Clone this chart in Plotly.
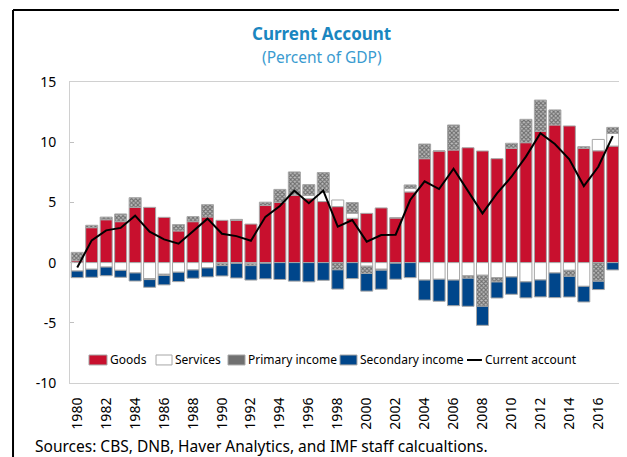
import plotly.graph_objects as go

FONT = "Noto Sans"

years = list(range(1980, 2018))

goods = [0.15, 2.9, 3.56, 3.4, 4.59, 4.59, 3.76, 2.63, 3.4, 3.79,
         3.51, 3.51, 3.2, 4.74, 5.0, 5.59, 5.31, 5.07, 4.65, 3.68,
         4.09, 4.54, 3.71, 5.87, 8.63, 9.27, 9.35, 9.54, 9.27, 8.63,
         9.49, 9.96, 10.9, 11.43, 11.35, 9.49, 9.29, 9.68]
services = [-0.7, -0.55, -0.37, -0.64, -0.86, -1.33, -0.97, -0.8, -0.61, -0.44,
            -0.08, -0.06, -0.1, -0.05, 0.0, 0.0, 0.28, 0.75, 0.55, 0.42,
            -0.3, -0.55, -0.05, 0.3, -1.45, -1.38, -1.45, -1.1, -1.05, -1.25,
            -1.19, -1.6, -1.44, -0.86, -0.64, -1.97, 0.94, 1.05]
primary = [0.7, 0.2, 0.22, 0.64, 0.8, -0.08, -0.1, 0.53, 0.42, 1.02,
           -0.17, 0.08, -0.15, 0.28, 1.08, 1.94, 0.89, 1.66, -0.6, 0.89,
           -0.6, -0.08, 0.0, 0.28, 1.22, 0.0, 2.08, -0.2, -2.58, -0.36,
           0.42, 1.94, 2.6, 1.25, -0.5, 0.14, -1.55, 0.5]
secondary = [-0.55, -0.67, -0.72, -0.58, -0.67, -0.64, -0.78, -0.78, -0.69, -0.75,
             -0.86, -1.22, -1.2, -1.3, -1.4, -1.54, -1.6, -1.47, -1.6, -1.33,
             -1.47, -1.58, -1.33, -1.25, -1.66, -1.83, -2.13, -2.33, -1.58, -1.33,
             -1.44, -1.33, -1.41, -2.05, -1.72, -1.3, -0.69, -0.61]
current_account = [-0.4, 1.85, 2.68, 2.88, 3.9, 2.57, 1.93, 1.57, 2.6, 3.65,
                   2.4, 2.2, 1.82, 3.8, 4.7, 5.98, 4.93, 5.98, 2.99, 3.54,
                   1.74, 2.29, 2.32, 5.2, 6.75, 6.11, 7.8, 5.98, 4.09, 5.75,
                   7.13, 8.8, 10.74, 9.85, 8.58, 6.36, 7.96, 10.5]

tick_years = list(range(1980, 2017, 2))
y_ticks = [-10, -5, 0, 5, 10, 15]
y_tick_text = ["-10", "-5", "0", "5", "10", "15"]

RED = "#c8102e"
BLUE = "#00468b"
HATCH_FG = "#222222"
HATCH_BG = "#bdbdbd"
outline = dict(color="#a6a6a6", width=1)

fig = go.Figure()
fig.add_trace(go.Bar(x=years, y=goods, name="Goods",
                     marker=dict(color=RED, line=outline)))
fig.add_trace(go.Bar(x=years, y=services, name="Services",
                     marker=dict(color="white", line=outline)))
fig.add_trace(go.Bar(x=years, y=primary, name="Primary income",
                     marker=dict(color=HATCH_BG, line=outline,
                                 pattern=dict(shape="x", size=3, solidity=0.6,
                                              fgcolor=HATCH_FG, bgcolor=HATCH_BG))))
fig.add_trace(go.Bar(x=years, y=secondary, name="Secondary income",
                     marker=dict(color=BLUE, line=outline)))
fig.add_trace(go.Scatter(x=years, y=current_account, name="Current account",
                         mode="lines", line=dict(color="black", width=2)))

# hand-drawn legend: one row of small keys sitting right next to their labels
legend_keys = [
    ("Goods", 0.0345, 0.0673, RED),
    ("Services", 0.1564, 0.1855, "white"),
    ("Primary income", 0.2873, 0.3182, "#707070"),
    ("Secondary income", 0.4909, 0.5218, BLUE),
]
shapes = []
annotations = []
for label, x0, x1, fill in legend_keys:
    shapes.append(dict(type="rect", xref="paper", yref="paper",
                       x0=x0, x1=x1, y0=0.06, y1=0.093, fillcolor=fill,
                       line=dict(color="#a6a6a6", width=1)))
    annotations.append(dict(text=label, xref="paper", yref="paper", x=x1 + 0.002, y=0.0765,
                            xanchor="left", yanchor="middle", showarrow=False,
                            font=dict(size=12, family=FONT, color="black")))
shapes.append(dict(type="line", xref="paper", yref="paper", x0=0.7218, x1=0.749,
                   y0=0.0765, y1=0.0765, line=dict(color="black", width=2)))
annotations.append(dict(text="Current account", xref="paper", yref="paper", x=0.751, y=0.0765,
                        xanchor="left", yanchor="middle", showarrow=False,
                        font=dict(size=12, family=FONT, color="black")))

# outer frame (top and left rules of the exhibit box)
shapes += [
    dict(type="line", xref="paper", yref="paper", x0=-0.1036, x1=1.05,
         y0=1.239, y1=1.239, line=dict(color="black", width=2)),
    dict(type="line", xref="paper", yref="paper", x0=-0.1036, x1=-0.1036,
         y0=1.239, y1=-0.32, line=dict(color="black", width=2)),
]

annotations += [
    dict(text="<b>Current Account</b>", xref="paper", yref="paper",
         x=0.458, y=1.161, xanchor="center", yanchor="middle", showarrow=False,
         font=dict(size=17, color="#1a86c0", family=FONT)),
    dict(text="(Percent of GDP)", xref="paper", yref="paper",
         x=0.458, y=1.084, xanchor="center", yanchor="middle", showarrow=False,
         font=dict(size=15.5, color="#3a9bd0", family=FONT)),
    dict(text="Sources: CBS, DNB, Haver Analytics, and IMF staff calcualtions.",
         xref="paper", yref="paper", x=-0.0673, y=-0.208,
         xanchor="left", yanchor="middle", showarrow=False,
         font=dict(size=15.5, color="black", family=FONT)),
]

fig.update_layout(
    width=619, height=449,
    margin=dict(l=62, r=7, t=74, b=74),
    paper_bgcolor="white", plot_bgcolor="white",
    barmode="relative", bargap=0.17,
    font=dict(family=FONT, size=14, color="black"),
    showlegend=False,
    xaxis=dict(range=[1979.5, 2017.5], tickvals=tick_years,
               ticktext=[str(y) for y in tick_years], tickangle=-90,
               showgrid=False, zeroline=False, showline=True, mirror=True,
               linecolor="#d0d0d0", linewidth=1, ticks="",
               ticklabelstandoff=8, tickfont=dict(size=14)),
    yaxis=dict(range=[-10, 15], tickvals=y_ticks, ticktext=y_tick_text,
               showgrid=False, zeroline=False,
               showline=True, mirror=True, linecolor="#d0d0d0", linewidth=1,
               ticks="inside", ticklen=4, tickcolor="#c0c0c0",
               ticklabelstandoff=10, tickfont=dict(size=14)),
    shapes=shapes,
    annotations=annotations,
)

fig.write_html("out.html")
